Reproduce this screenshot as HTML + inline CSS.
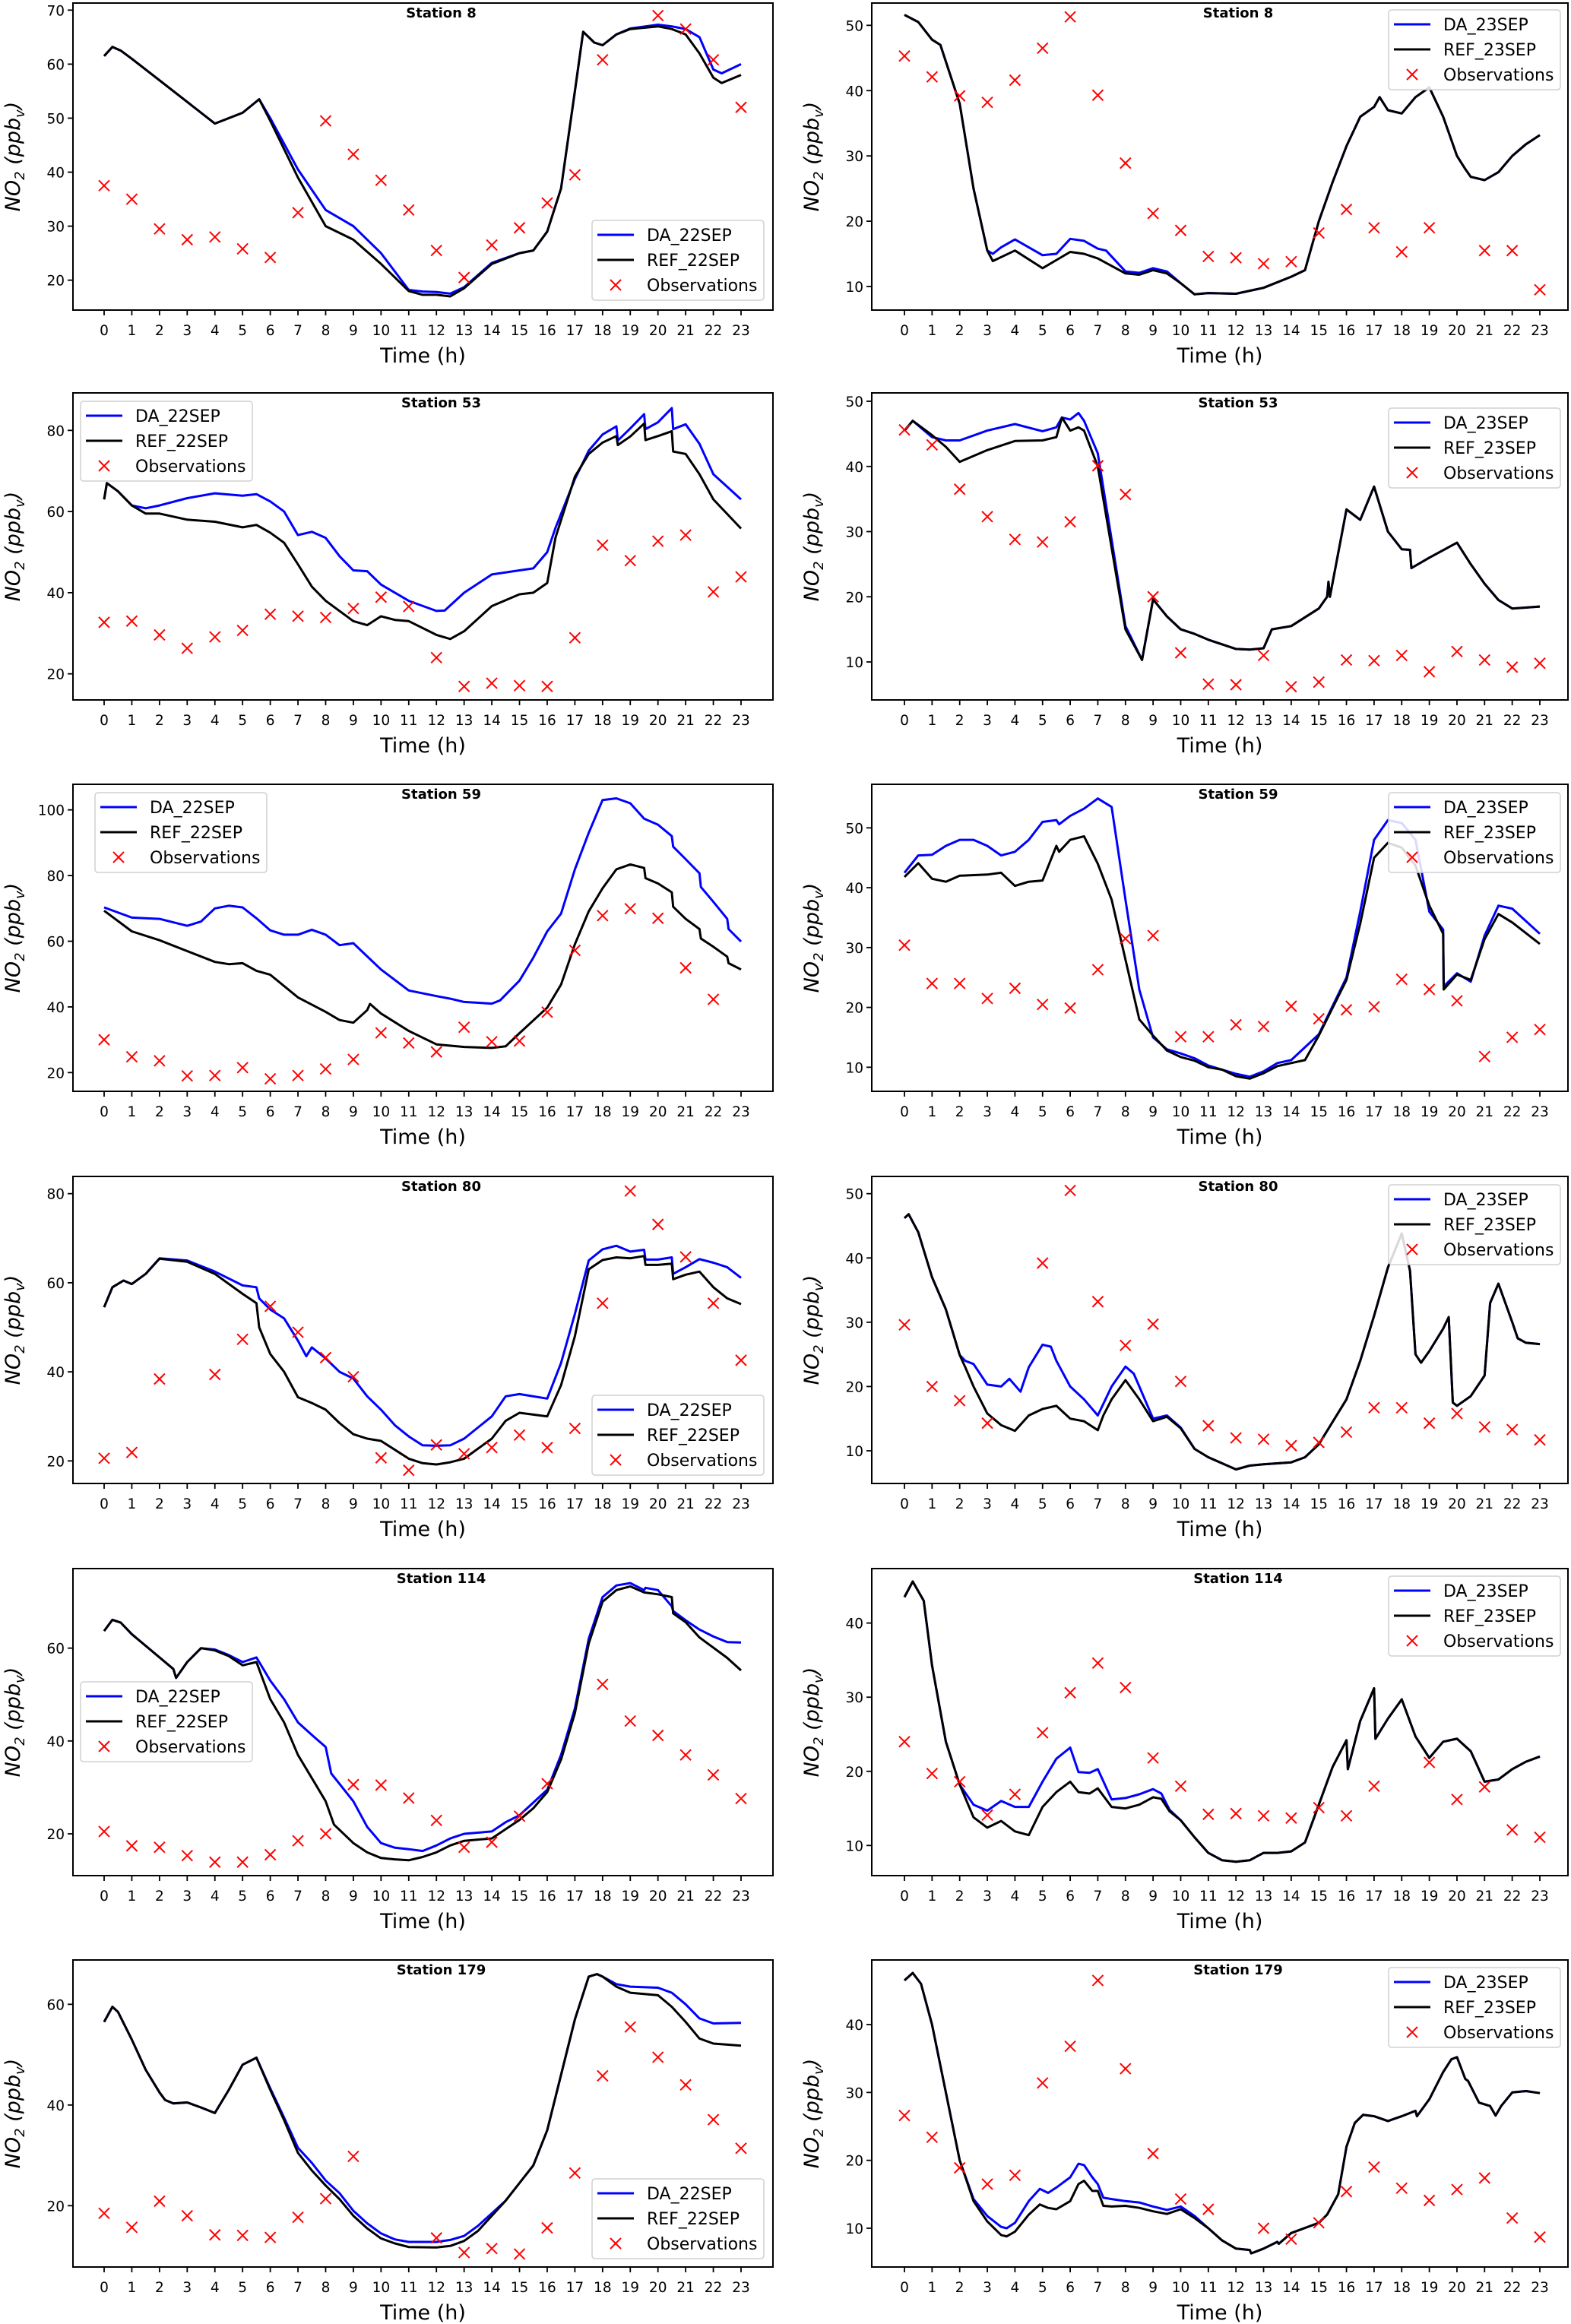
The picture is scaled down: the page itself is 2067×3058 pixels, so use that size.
<!DOCTYPE html>
<html><head><meta charset="utf-8"><style>
html,body{margin:0;padding:0;background:#fff;}
svg{display:block;font-family:"DejaVu Sans","Liberation Sans",sans-serif;}
</style></head><body>
<svg id="fig" width="2067" height="3058" viewBox="0 0 2067 3058" xmlns="http://www.w3.org/2000/svg"></svg>
<script>
// ---------- data (time in hours, NO2 in ppbv) ----------
const hours = [0,1,2,3,4,5,6,7,8,9,10,11,12,13,14,15,16,17,18,19,20,21,22,23];

const s8aRef = [[0,61.5],[0.3,63.2],[0.6,62.5],[1,61],[2,57],[3,53],[4,49],[5,51],[5.6,53.5],[6,49.5],[7,39],[8,30],[9,27.5],[10,23],[11,18],[11.5,17.3],[12,17.3],[12.5,17],[13,18.5],[14,23],[15,25],[15.5,25.5],[16,29],[16.5,37],[17,55],[17.3,66],[17.7,64],[18,63.5],[18.5,65.5],[19,66.5],[20,67],[20.5,66.5],[21,65.5],[21.5,62],[22,57.5],[22.3,56.5],[23,58]];
const s8aDa = [[0,61.5],[0.3,63.2],[0.6,62.5],[1,61],[2,57],[3,53],[4,49],[5,51],[5.6,53.5],[6,50],[7,40.5],[8,33],[9,30],[10,25],[11,18.2],[11.5,17.9],[12,17.8],[12.5,17.5],[13,18.7],[14,23.2],[15,25],[15.5,25.5],[16,29],[16.5,37],[17,55],[17.3,66],[17.7,64],[18,63.5],[18.5,65.5],[19,66.6],[20,67.3],[20.5,67],[21,66.5],[21.5,65],[22,59],[22.3,58.3],[23,60]];
const s8aObs = [37.5,35,29.5,27.5,28,25.8,24.2,32.5,49.5,43.3,38.5,33,25.5,20.5,26.5,29.7,34.3,39.5,60.8,null,69,66.5,60.8,52];

const s8bRef = [[0,51.6],[0.5,50.5],[1,47.8],[1.3,47],[2,38],[2.5,25],[3,15.5],[3.2,13.9],[4,15.5],[5,12.8],[6,15.3],[6.5,15],[7,14.3],[8,12],[8.5,11.8],[9,12.5],[9.5,12],[10,10.5],[10.5,8.8],[11,9],[12,8.9],[13,9.8],[14,11.5],[14.5,12.5],[15,20],[15.5,26],[16,31.5],[16.5,36],[17,37.5],[17.2,39],[17.5,37],[18,36.5],[18.5,39],[19,40.5],[19.5,36],[20,30],[20.3,28],[20.5,26.8],[21,26.3],[21.5,27.5],[22,30],[22.5,31.8],[23,33.2]];
const s8bDa = [[0,51.6],[0.5,50.5],[1,47.8],[1.3,47],[2,38],[2.5,25],[3,15.5],[3.2,15],[3.5,16],[4,17.2],[5,14.8],[5.5,15],[6,17.3],[6.5,17],[7,15.8],[7.3,15.5],[8,12.3],[8.5,12.1],[9,12.8],[9.5,12.3],[10,10.5],[10.5,8.8],[11,9],[12,8.9],[13,9.8],[14,11.5],[14.5,12.5],[15,20],[15.5,26],[16,31.5],[16.5,36],[17,37.5],[17.2,39],[17.5,37],[18,36.5],[18.5,39],[19,40.5],[19.5,36],[20,30],[20.3,28],[20.5,26.8],[21,26.3],[21.5,27.5],[22,30],[22.5,31.8],[23,33.2]];
const s8bObs = [45.3,42.1,39.2,38.2,41.6,46.5,51.3,39.3,28.9,21.2,18.6,14.6,14.4,13.5,13.8,18.2,21.8,19,15.3,19,null,15.5,15.5,9.5];

const s53aRef = [[0,63],[0.1,67],[0.5,65],[1,61.5],[1.5,59.5],[2,59.5],[3,58],[4,57.5],[5,56.1],[5.5,56.7],[6,54.8],[6.5,52.3],[7,47],[7.5,41.5],[8,38],[9,33],[9.5,32],[10,34.2],[10.5,33.3],[11,33],[12,29.6],[12.5,28.6],[13,30.5],[14,36.7],[15,39.6],[15.5,40],[16,42.4],[16.3,53.6],[17,68.6],[17.5,74.2],[18,77],[18.5,78.6],[18.55,76.4],[19,78.5],[19.5,81.7],[19.55,77.6],[20,78.6],[20.5,79.8],[20.55,74.8],[21,74.2],[21.5,69.2],[22,63],[23,55.8]];
const s53aDa = [[0,63],[0.1,67],[0.5,65],[1,61.5],[1.5,60.8],[2,61.5],[3,63.3],[4,64.5],[5,63.9],[5.5,64.3],[6,62.5],[6.5,60],[7,54.2],[7.5,55],[8,53.5],[8.5,49],[9,45.5],[9.5,45.3],[10,42],[11,38],[12,35.5],[12.3,35.6],[13,40],[14,44.5],[15,45.5],[15.5,46],[16,50],[16.3,56],[17,68],[17.5,75],[18,79],[18.5,81],[18.55,77.5],[19,80.5],[19.5,84],[19.55,80.3],[20,82],[20.5,85.5],[20.55,80.3],[21,81.5],[21.5,76.7],[22,69.2],[23,63]];
const s53aObs = [32.7,33,29.6,26.3,29.1,30.7,34.7,34.2,33.9,36.1,38.9,36.6,24,16.9,17.7,17.1,16.9,28.9,51.7,47.9,52.7,54.2,40.2,43.9];

const s53bRef = [[0,45.5],[0.3,47],[1,44.8],[1.5,43],[2,40.7],[3,42.5],[4,43.9],[5,44],[5.5,44.5],[5.7,47.5],[6,45.5],[6.3,46],[6.5,45.5],[7,40],[8,15],[8.6,10.3],[9,19.6],[9.5,17],[10,15],[10.5,14.3],[11,13.4],[12,12],[12.5,11.9],[13,12.1],[13.3,15],[14,15.5],[15,18.2],[15.3,20],[15.35,22.3],[15.4,20],[16,33.4],[16.5,31.8],[17,36.9],[17.5,30],[18,27.3],[18.3,27.2],[18.35,24.4],[19,26],[20,28.3],[20.5,25],[21,22],[21.5,19.5],[22,18.2],[23,18.5]];
const s53bDa = [[0,45.5],[0.3,47],[1,44.5],[1.5,44],[2,44],[3,45.5],[4,46.5],[5,45.4],[5.5,46],[5.7,47.5],[6,47.2],[6.3,48.2],[6.5,47],[7,42],[8,15.5],[8.6,10.3],[9,19.6],[9.5,17],[10,15],[10.5,14.3],[11,13.4],[12,12],[12.5,11.9],[13,12.1],[13.3,15],[14,15.5],[15,18.2],[15.3,20],[15.35,22.3],[15.4,20],[16,33.4],[16.5,31.8],[17,36.9],[17.5,30],[18,27.3],[18.3,27.2],[18.35,24.4],[19,26],[20,28.3],[20.5,25],[21,22],[21.5,19.5],[22,18.2],[23,18.5]];
const s53bObs = [45.6,43.3,36.5,32.3,28.8,28.4,31.5,40.1,35.7,20,11.4,6.6,6.5,11,6.2,6.9,10.3,10.2,11,8.5,11.6,10.3,9.2,9.8];

const s59aRef = [[0,69.3],[1,63],[2,60.3],[3,57],[4,53.7],[4.5,53],[5,53.3],[5.5,51],[6,49.8],[7,42.9],[8,38.5],[8.5,36],[9,35.2],[9.5,39],[9.6,40.9],[10,38],[11,32.7],[12,28.6],[13,27.8],[14,27.5],[14.5,28],[15,32],[16,39.8],[16.5,46.8],[17,59.1],[17.5,69.1],[18,76.1],[18.5,81.9],[19,83.4],[19.5,82.3],[19.55,79.2],[20,77.6],[20.5,74.9],[20.55,70.5],[21,66.8],[21.5,63.7],[21.55,60.8],[22,58.3],[22.5,55.3],[22.55,53.3],[23,51.4]];
const s59aDa = [[0,70.3],[1,67.2],[2,66.8],[3,64.7],[3.5,66],[4,70],[4.5,70.8],[5,70.3],[5.5,67],[6,63.3],[6.5,62],[7,62],[7.5,63.5],[8,62],[8.5,58.8],[9,59.4],[9.3,57],[10,51.4],[11,45],[12,43.3],[12.5,42.5],[13,41.5],[14,41],[14.3,42],[15,48],[15.5,55],[16,63],[16.5,68.4],[17,81.9],[17.5,93],[18,103],[18.5,103.5],[19,102],[19.5,97.3],[20,95.5],[20.5,92],[20.55,88.8],[21,85],[21.5,80.7],[21.55,76.5],[22,72],[22.5,66.8],[22.55,63.7],[23,59.9]];
const s59aObs = [30,24.8,23.6,19,19.1,21.5,18.1,19.1,21.1,24,32.1,29,26.3,33.8,29.4,29.6,38.4,57.2,67.8,69.9,67,51.9,42.3,null];

const s59bRef = [[0,41.8],[0.5,44.1],[1,41.5],[1.5,41],[2,42],[3,42.2],[3.5,42.5],[4,40.3],[4.5,41],[5,41.2],[5.5,47],[5.6,46],[6,48],[6.5,48.6],[7,44],[7.5,38],[8,28],[8.5,18],[9,15.3],[9.5,12.8],[10,11.7],[10.5,11.1],[11,10],[11.5,9.6],[12,8.5],[12.5,8.1],[13,9],[13.5,10.2],[14,10.7],[14.5,11.2],[15,15.3],[16,24.6],[16.5,34],[17,45],[17.5,47.5],[18,46.7],[18.5,43.7],[19,37],[19.5,32.3],[19.52,23],[20,25.5],[20.5,24.6],[21,31.4],[21.5,35.6],[22,34.2],[23,30.6]];
const s59bDa = [[0,42.5],[0.5,45.4],[1,45.5],[1.5,47],[2,48],[2.5,48],[3,47],[3.5,45.4],[4,46],[4.5,48],[5,51],[5.5,51.3],[5.6,50.6],[6,52],[6.5,53.2],[7,54.9],[7.5,53.5],[8,38],[8.5,23],[9,15],[9.5,13],[10,12.3],[10.5,11.5],[11,10.3],[11.5,9.6],[12,8.9],[12.5,8.4],[13,9.3],[13.5,10.7],[14,11.2],[15,15.5],[16,25],[16.5,36],[17,48],[17.5,51.3],[18,50.8],[18.5,48],[19,36],[19.5,33],[19.52,23.5],[20,25.7],[20.5,24.3],[21,32],[21.5,37],[22,36.5],[23,32.3]];
const s59bObs = [30.4,24,24,21.5,23.2,20.5,19.9,26.3,31.5,32,15.1,15.1,17.1,16.8,20.2,18.1,19.6,20.1,24.7,23,21.1,11.8,15,16.3];

const s80aRef = [[0,54.5],[0.3,59],[0.7,60.5],[1,59.7],[1.5,62],[2,65.4],[3,64.7],[4,62],[5,57.5],[5.5,55.4],[5.6,50],[6,44],[6.5,40],[7,34.3],[7.5,33],[8,31.5],[8.5,28.5],[9,26],[9.5,25],[10,24.5],[10.5,22.5],[11,20.5],[11.5,19.5],[12,19.2],[12.5,19.7],[13,20.5],[14,25],[14.5,29],[15,30.8],[16,30],[16.5,37],[17,48],[17.5,63],[18,65.1],[18.5,65.7],[19,65.5],[19.5,66],[19.55,64],[20,64],[20.5,64.3],[20.55,60.8],[21,61.8],[21.5,62.5],[22,59],[22.5,56.5],[23,55.2]];
const s80aDa = [[0,54.5],[0.3,59],[0.7,60.5],[1,59.7],[1.5,62],[2,65.5],[3,65],[4,62.5],[5,59.4],[5.5,59],[5.6,56.5],[6,54],[6.5,52],[7,47],[7.3,43.5],[7.5,45.5],[8,43],[8.5,40],[9,38.5],[9.5,34.5],[10,31.5],[10.5,28],[11,25.5],[11.5,23.5],[12,23.4],[12.5,23.5],[13,25],[14,30],[14.5,34.5],[15,35],[16,34],[16.5,42],[17,53],[17.5,65],[18,67.5],[18.5,68.3],[19,67],[19.5,67.4],[19.55,65.2],[20,65.2],[20.5,65.7],[20.55,62],[21,63.5],[21.5,65.3],[22,64.5],[22.5,63.5],[23,61.1]];
const s80aObs = [20.6,21.9,38.4,null,39.4,47.3,54.7,48.9,43.2,38.9,20.7,17.9,23.6,21.6,23,25.8,23,27.3,55.4,80.6,73.1,65.8,55.4,42.6];

const s80bRef = [[0,46.2],[0.15,46.8],[0.5,44],[1,37],[1.5,32],[2,24.9],[2.2,23],[2.5,20],[3,15.8],[3.5,14],[4,13.1],[4.5,15.5],[5,16.5],[5.5,17],[6,15],[6.5,14.6],[7,13.2],[7.2,15.5],[7.5,18],[8,21],[8.5,18],[9,14.6],[9.5,15.3],[10,13.5],[10.5,10.3],[11,9],[12,7.1],[12.5,7.7],[13,7.9],[14,8.2],[14.5,9],[15,11],[16,18],[16.5,24],[17,31],[17.5,38.5],[18,43.8],[18.3,38],[18.5,25],[18.7,23.7],[19,25.5],[19.5,29],[19.7,30.8],[19.85,17.5],[20,17],[20.5,18.5],[21,21.7],[21.2,33],[21.5,36],[22,30],[22.2,27.5],[22.5,26.8],[23,26.6]];
const s80bDa = [[0,46.2],[0.15,46.8],[0.5,44],[1,37],[1.5,32],[2,24.9],[2.2,24],[2.5,23.5],[3,20.3],[3.5,20],[3.8,21.2],[4.2,19.2],[4.5,23],[5,26.5],[5.3,26.2],[5.5,24],[6,20],[6.5,18],[7,15.5],[7.5,20],[8,23.1],[8.3,22],[8.5,20],[9,15],[9.5,15.5],[10,13.6],[10.5,10.3],[11,9],[12,7.1],[12.5,7.7],[13,7.9],[14,8.2],[14.5,9],[15,11],[16,18],[16.5,24],[17,31],[17.5,38.5],[18,43.8],[18.3,38],[18.5,25],[18.7,23.7],[19,25.5],[19.5,29],[19.7,30.8],[19.85,17.5],[20,17],[20.5,18.5],[21,21.7],[21.2,33],[21.5,36],[22,30],[22.2,27.5],[22.5,26.8],[23,26.6]];
const s80bObs = [29.6,20,17.8,14.3,null,39.2,50.5,33.2,26.4,29.7,20.8,13.9,12,11.8,10.8,11.3,12.9,16.7,16.7,14.3,15.8,13.7,13.3,11.7];

const s114aRef = [[0,63.7],[0.3,66.1],[0.6,65.5],[1,63],[2,58],[2.5,55.5],[2.6,53.6],[3,57],[3.5,60],[4,59.5],[4.5,58.3],[5,56.3],[5.5,57],[6,49],[6.5,44],[7,37],[7.5,32],[8,27],[8.3,22],[9,18],[9.5,16],[10,14.8],[10.5,14.5],[11,14.3],[11.5,15],[12,16],[12.5,17.5],[13,18.5],[14,19],[14.5,21],[15,23],[15.5,25.5],[16,29],[16.5,36],[17,46],[17.5,61],[18,70],[18.5,72.5],[19,73.3],[19.5,72],[20,71.6],[20.5,71],[20.55,67.5],[21,65.6],[21.5,62.3],[22,60.1],[22.5,57.9],[23,55.2]];
const s114aDa = [[0,63.7],[0.3,66.1],[0.6,65.5],[1,63],[2,58],[2.5,55.5],[2.6,53.6],[3,57],[3.5,60],[4,59.7],[4.5,58.5],[5,57],[5.5,58],[6,53],[6.5,49],[7,44],[7.5,41.3],[8,38.7],[8.2,33],[9,27],[9.5,21.5],[10,18],[10.5,17],[11,16.7],[11.5,16.3],[12,17.5],[12.5,19],[13,20],[14,20.5],[14.5,22.5],[15,24],[16,29.5],[16.5,37],[17,47],[17.5,62],[18,71],[18.5,73.5],[19,74],[19.5,72.5],[19.55,73],[20,72.5],[20.5,69],[20.55,68],[21,66],[21.5,64],[22,62.5],[22.5,61.3],[23,61.2]];
const s114aObs = [20.5,17.4,17.1,15.3,13.9,13.9,15.5,18.5,20,30.6,30.5,27.7,22.9,17.1,18.2,23.8,30.8,null,52.2,44.3,41.2,37,32.7,27.6];

const s114bRef = [[0,43.5],[0.3,45.6],[0.7,43],[1,34.3],[1.5,24],[2,18.2],[2.5,13.8],[3,12.4],[3.5,13.3],[4,11.9],[4.5,11.4],[5,15.2],[5.5,17.2],[6,18.6],[6.3,17.2],[6.7,17],[7,17.7],[7.5,15.2],[8,15],[8.5,15.5],[9,16.5],[9.3,16.3],[9.6,14.6],[10,13.4],[10.5,11.1],[11,9],[11.5,8],[12,7.8],[12.5,8],[13,9],[13.5,9],[14,9.2],[14.5,10.4],[15,15.5],[15.5,20.6],[16,24.2],[16.05,20.3],[16.5,26.8],[17,31.2],[17.05,24.4],[17.5,27.1],[18,29.7],[18.5,24.7],[19,21.8],[19.5,24],[20,24.4],[20.5,22.7],[21,18.6],[21.5,18.9],[22,20.3],[22.5,21.3],[23,22]];
const s114bDa = [[0,43.5],[0.3,45.6],[0.7,43],[1,34.3],[1.5,24],[2,18.2],[2.5,15.5],[3,14.7],[3.5,16],[4,15.2],[4.5,15.2],[5,18.6],[5.5,21.7],[6,23.2],[6.3,19.9],[6.7,19.8],[7,20.3],[7.5,16.2],[8,16.4],[8.5,16.9],[9,17.6],[9.3,17],[9.6,14.8],[10,13.4],[10.5,11.1],[11,9],[11.5,8],[12,7.8],[12.5,8],[13,9],[13.5,9],[14,9.2],[14.5,10.4],[15,15.5],[15.5,20.6],[16,24.2],[16.05,20.3],[16.5,26.8],[17,31.2],[17.05,24.4],[17.5,27.1],[18,29.7],[18.5,24.7],[19,21.8],[19.5,24],[20,24.4],[20.5,22.7],[21,18.6],[21.5,18.9],[22,20.3],[22.5,21.3],[23,22]];
const s114bObs = [24,19.7,18.6,14.1,16.9,25.2,30.6,34.6,31.3,21.8,18,14.2,14.3,14,13.7,15.1,14,18,null,21.2,16.2,17.9,12.1,11.1];

const s179aRef = [[0,56.5],[0.3,59.5],[0.5,58.5],[1,53],[1.5,47],[2,42.5],[2.2,41],[2.5,40.3],[3,40.5],[3.5,39.5],[4,38.4],[4.5,43],[5,48],[5.5,49.4],[6,43],[6.5,37],[7,30.5],[7.5,27],[8,24],[8.5,21.3],[9,18],[9.5,15.5],[10,13.5],[10.5,12.5],[11,11.8],[12,11.7],[12.5,12],[13,13],[13.5,15],[14,18],[14.5,21],[15,24.5],[15.5,28],[16,35],[16.5,46],[17,57],[17.5,65.5],[17.8,66],[18,65.5],[18.5,63.5],[19,62.3],[20,61.8],[20.5,59.5],[21,56.5],[21.5,53.2],[22,52.2],[23,51.8]];
const s179aDa = [[0,56.5],[0.3,59.5],[0.5,58.5],[1,53],[1.5,47],[2,42.5],[2.2,41],[2.5,40.3],[3,40.5],[3.5,39.5],[4,38.4],[4.5,43],[5,48],[5.5,49.4],[6,43.3],[6.5,37.5],[7,31.5],[7.5,28.5],[8,25],[8.5,22.5],[9,19],[9.5,16.5],[10,14.5],[10.5,13.3],[11,12.8],[12,12.8],[12.5,13.2],[13,14],[13.5,16],[14,18.5],[14.5,21],[15,24.5],[15.5,28],[16,35],[16.5,46],[17,57],[17.5,65.5],[17.8,66],[18,65.5],[18.5,64],[19,63.5],[20,63.3],[20.5,62.3],[21,60],[21.5,57.2],[22,56.2],[23,56.3]];
const s179aObs = [18.5,15.7,20.9,18,14.2,14.1,13.7,17.7,21.4,29.8,null,null,13.6,10.7,11.5,10.4,15.6,26.5,45.8,55.5,49.5,44,37.1,31.4];

const s179bRef = [[0,46.5],[0.3,47.6],[0.6,46],[1,40],[1.5,30],[2,20],[2.5,14],[3,11],[3.5,9],[3.7,8.8],[4,9.5],[4.5,12],[4.9,13.5],[5.2,13],[5.5,12.8],[6,14],[6.3,16.5],[6.5,17],[6.8,15.5],[7,15.5],[7.2,13.3],[7.5,13.2],[8,13.3],[8.5,13],[9,12.5],[9.5,12.1],[10,12.8],[10.5,11.5],[11,10],[11.5,8.2],[12,7],[12.5,6.8],[12.55,6.3],[13,7],[13.5,8],[13.55,7.7],[14,9.3],[15,10.8],[15.3,12],[15.7,15],[16,22],[16.3,25.5],[16.6,26.7],[17,26.5],[17.5,25.8],[18,26.5],[18.5,27.3],[18.55,26.5],[19,29],[19.5,33],[19.8,34.9],[20,35.2],[20.3,32],[20.4,31.7],[20.8,28.5],[21.2,28],[21.4,26.6],[21.6,28],[22,30],[22.5,30.2],[23,29.9]];
const s179bDa = [[0,46.5],[0.3,47.6],[0.6,46],[1,40],[1.5,30],[2,20],[2.5,14.3],[3,11.8],[3.5,10.2],[3.7,10],[4,10.8],[4.5,14],[4.9,15.8],[5.2,15.2],[5.5,16],[6,17.5],[6.3,19.5],[6.5,19.3],[6.8,17.5],[7,16.5],[7.2,14.5],[7.5,14.3],[8,14],[8.5,13.8],[9,13.2],[9.5,12.7],[10,13.2],[10.5,11.8],[11,10],[11.5,8.2],[12,7],[12.5,6.8],[12.55,6.3],[13,7],[13.5,8],[13.55,7.7],[14,9.3],[15,10.8],[15.3,12],[15.7,15],[16,22],[16.3,25.5],[16.6,26.7],[17,26.5],[17.5,25.8],[18,26.5],[18.5,27.3],[18.55,26.5],[19,29],[19.5,33],[19.8,34.9],[20,35.2],[20.3,32],[20.4,31.7],[20.8,28.5],[21.2,28],[21.4,26.6],[21.6,28],[22,30],[22.5,30.2],[23,29.9]];
const s179bObs = [26.6,23.4,18.9,16.5,17.8,31.4,36.8,46.5,33.5,21,14.3,12.8,null,10,8.4,10.8,15.4,19,15.9,14.1,15.7,17.4,11.5,8.7];

// y tick labels per panel
const ticks8a = [20,30,40,50,60,70];
const ticks8b = [10,20,30,40,50];
const ticks53a = [20,40,60,80];
const ticks53b = [10,20,30,40,50];
const ticks59a = [20,40,60,80,100];
const ticks59b = [10,20,30,40,50];
const ticks80a = [20,40,60,80];
const ticks80b = [10,20,30,40,50];
const ticks114a = [20,40,60];
const ticks114b = [10,20,30,40];
const ticks179a = [20,40,60];
const ticks179b = [10,20,30,40];

// ---------- layout ----------
const SVGNS = "http://www.w3.org/2000/svg";
const svg = document.getElementById('fig');
function el(tag, attrs, parent){ const e=document.createElementNS(SVGNS,tag); for(const k in attrs) e.setAttribute(k,attrs[k]); (parent||svg).appendChild(e); return e; }

const cropOff = [0,514,1029,1543,2058,2544];
const rowTop = [4,517,1032,1548,2064,2579];
const colX = [[96,1017],[1147,2063]];
const hourX = [[137,975],[1190,2026]];

// panel: station, col, row, day, ref, da, obs, ticks, calibration (value, zoomY, value, zoomY), legend pos
const panels = [
 {st:'8',c:0,r:0,day:'22SEP',ref:s8aRef,da:s8aDa,obs:s8aObs,ticks:ticks8a,cal:[70,40,20,1106],lg:[779,290]},
 {st:'8',c:1,r:0,day:'23SEP',ref:s8bRef,da:s8bDa,obs:s8bObs,ticks:ticks8b,cal:[50,100,10,1131],lg:[1827,13]},
 {st:'53',c:0,r:1,day:'22SEP',ref:s53aRef,da:s53aDa,obs:s53aObs,ticks:ticks53a,cal:[80,157,20,1118],lg:[106,14]},
 {st:'53',c:1,r:1,day:'23SEP',ref:s53bRef,da:s53bDa,obs:s53bObs,ticks:ticks53b,cal:[50,42,10,1071],lg:[1827,23]},
 {st:'59',c:0,r:2,day:'22SEP',ref:s59aRef,da:s59aDa,obs:s59aObs,ticks:ticks59a,cal:[100,110,20,1147],lg:[125,14]},
 {st:'59',c:1,r:2,day:'23SEP',ref:s59bRef,da:s59bDa,obs:s59bObs,ticks:ticks59b,cal:[50,181,10,1126],lg:[1827,14]},
 {st:'80',c:0,r:3,day:'22SEP',ref:s80aRef,da:s80aDa,obs:s80aObs,ticks:ticks80a,cal:[80,83,20,1138],lg:[779,293]},
 {st:'80',c:1,r:3,day:'23SEP',ref:s80bRef,da:s80bDa,obs:s80bObs,ticks:ticks80b,cal:[50,83,10,1098],lg:[1827,16]},
 {st:'114',c:0,r:4,day:'22SEP',ref:s114aRef,da:s114aDa,obs:s114aObs,ticks:ticks114a,cal:[60,332,20,1065],lg:[106,155]},
 {st:'114',c:1,r:4,day:'23SEP',ref:s114bRef,da:s114bDa,obs:s114bObs,ticks:ticks114b,cal:[40,233,10,1111],lg:[1827,16]},
 {st:'179',c:0,r:5,day:'22SEP',ref:s179aRef,da:s179aDa,obs:s179aObs,ticks:ticks179a,cal:[60,280,20,1075],lg:[779,323]},
 {st:'179',c:1,r:5,day:'23SEP',ref:s179bRef,da:s179bDa,obs:s179bObs,ticks:ticks179b,cal:[40,360,10,1164],lg:[1827,45]},
];

panels.forEach((p,i)=>{
  const off = cropOff[p.r];
  const top = rowTop[p.r], bot = top+404;
  const [xl,xr] = colX[p.c];
  const [h0,h23] = hourX[p.c];
  const xs = h => h0 + h*(h23-h0)/23;
  const ya = off + p.cal[1]/3, yb = off + p.cal[3]/3;
  const ys = v => ya + (v - p.cal[0])*(yb-ya)/(p.cal[2]-p.cal[0]);
  const g = el('g',{});
  
  
  const cid = 'clip'+i;
  const cp = el('clipPath',{id:cid},g); el('rect',{x:xl,y:top,width:xr-xl,height:bot-top},cp);
  // x ticks
  const xt = el('g',{},g);
  
  
  hours.forEach(h=>{
    el('line',{x1:xs(h),x2:xs(h),y1:bot,y2:bot+7,stroke:'#000','stroke-width':1.8},xt);
    const t = el('text',{x:xs(h),y:bot+33,'font-size':18.5,'text-anchor':'middle',fill:'#000'},xt); t.textContent=h;
  });
  // y ticks
  const yt = el('g',{},g);
  
  
  p.ticks.forEach(v=>{
    el('line',{x1:xl-7,x2:xl,y1:ys(v),y2:ys(v),stroke:'#000','stroke-width':1.8},yt);
    const t = el('text',{x:xl-11,y:ys(v)+7,'font-size':18.5,'text-anchor':'end',fill:'#000'},yt); t.textContent=v;
  });
  // lines
  const path = arr => arr.map((d,k)=>(k?'L':'M')+xs(d[0]).toFixed(1)+' '+ys(d[1]).toFixed(1)).join(' ');
  const lines = el('g',{'clip-path':'url(#'+cid+')'},g);
  const da = el('path',{d:path(p.da),fill:'none',stroke:'#0000ff','stroke-width':3,'stroke-linejoin':'round'},lines);
  
  
  const rf = el('path',{d:path(p.ref),fill:'none',stroke:'#000','stroke-width':3,'stroke-linejoin':'round'},lines);
  
  
  p.obs.forEach((v,h)=>{
    if(v===null) return;
    const cx=xs(h), cy=ys(v), s=7;
    const m = el('path',{d:`M${cx-s} ${cy-s}L${cx+s} ${cy+s}M${cx-s} ${cy+s}L${cx+s} ${cy-s}`,stroke:'#ff0000','stroke-width':2,fill:'none'},lines);
    
    
  });
  // frame
  const fr = el('rect',{x:xl,y:top,width:xr-xl,height:bot-top,fill:'none',stroke:'#000','stroke-width':2},g);
  
  
  // title
  const tt = el('text',{x:(xl+xr)/2+24,y:top+19,'font-size':18,'font-weight':'bold','text-anchor':'middle'},g);
  tt.textContent='Station '+p.st;
  
  
  // x label
  const xlb = el('text',{x:(xl+xr)/2,y:bot+69,'font-size':27,'text-anchor':'middle'},g);
  xlb.textContent='Time (h)';
  
  
  // y label
  const yx = p.c===0 ? 26 : 1077, yc=(top+bot)/2;
  const ylb = el('text',{x:yx,y:yc,'font-size':27,'font-style':'italic','text-anchor':'middle',transform:`rotate(-90 ${yx} ${yc})`},g);
  
  
  ylb.innerHTML = 'NO<tspan font-size="18" dy="6">2</tspan><tspan dy="-6"> (ppb</tspan><tspan font-size="18" dy="6">v</tspan><tspan dy="-6">)</tspan>';
  // legend
  const lx=p.lg[0], ly=off+p.lg[1];
  const lg = el('g',{},g);
  
  
  el('rect',{x:lx,y:ly,width:226,height:105,rx:4,fill:'#fff','fill-opacity':0.85,stroke:'#d0d0d0','stroke-width':1.5},lg);
  const items=[['DA_'+p.day,'#0000ff','line'],['REF_'+p.day,'#000','line'],['Observations','#ff0000','x']];
  items.forEach((it,k)=>{
    const cy = ly+19+k*33;
    const ent = el('g',{},lg);
    
    
    if(it[2]==='line') el('line',{x1:lx+7,x2:lx+55,y1:cy,y2:cy,stroke:it[1],'stroke-width':3},ent);
    else el('path',{d:`M${lx+24} ${cy-7}L${lx+38} ${cy+7}M${lx+24} ${cy+7}L${lx+38} ${cy-7}`,stroke:it[1],'stroke-width':2},ent);
    const t=el('text',{x:lx+72,y:cy+8,'font-size':22},ent); t.textContent=it[0];
  });
});
</script>
</body></html>
